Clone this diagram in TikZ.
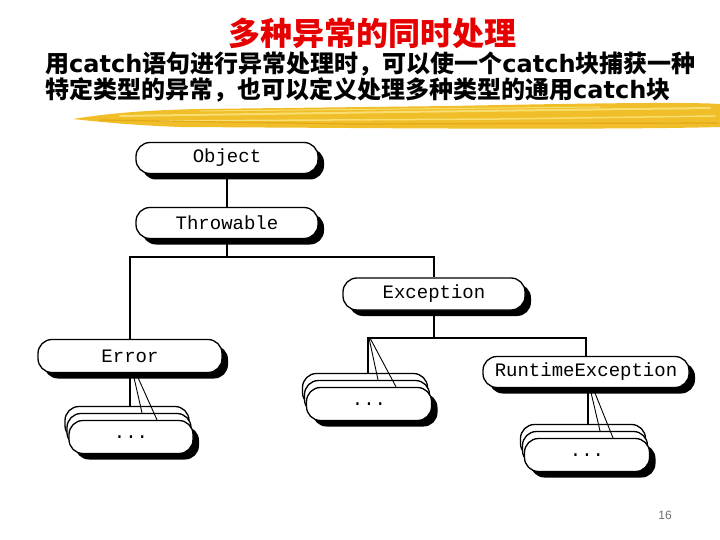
\documentclass[tikz,border=0pt]{standalone}
\usepackage{fontspec}
\setmainfont{Liberation Sans}
\newfontfamily\cjkfont{Noto Sans CJK SC}
\newfontfamily\dvfont{DejaVu Sans}
\newfontfamily\lmonofont{Liberation Mono}
\usetikzlibrary{shadows}
\definecolor{titlered}{RGB}{230,0,0}
\definecolor{brushA}{RGB}{240,190,40}
\definecolor{brushB}{RGB}{248,222,110}
\definecolor{brushC}{RGB}{228,168,24}
\definecolor{pagegray}{RGB}{110,110,110}
\newcommand\catchword{{\dvfont\bfseries catch}}
\begin{document}
\begin{tikzpicture}[x=1pt,y=-1pt,
  pill/.style={draw=black, line width=1.3pt, fill=white, rounded corners=14pt,
    minimum height=31pt, inner sep=0pt, font=\lmonofont\fontsize{19}{19}\selectfont},
  shad/.style={drop shadow={shadow xshift=6pt, shadow yshift=-6pt, opacity=1, fill=black}},
  conn/.style={draw=black, line width=1.5pt},
  thinconn/.style={draw=black, line width=0.9pt},
  bodytext/.style={anchor=base west, inner sep=0pt, font=\cjkfont\bfseries\fontsize{24}{24}\selectfont}
]
\useasboundingbox (0,0) rectangle (720,540);
\fill[white] (0,0) rectangle (720,540);

% title and text
\node[font=\cjkfont\bfseries\fontsize{32}{32}\selectfont, text=titlered, inner sep=0pt] (title) at (372,33) {多种异常的同时处理};
\node[bodytext] (line1) at (45,73) {用\catchword 语句进行异常处理时，可以使一个\catchword 块捕获一种};
\node[bodytext] (line2) at (45,99) {特定类型的异常，也可以定义处理多种类型的通用\catchword 块};

% brush stroke
\fill[brushA] (73,119) .. controls (110,113) and (150,110) .. (200,109) -- (450,106)
  .. controls (600,103) and (690,102) .. (720,104) -- (720,127)
  .. controls (650,129) and (500,129) .. (350,128) -- (180,127)
  .. controls (130,125) and (100,122) .. (73,119) -- cycle;
\draw[brushB, line width=2pt, line cap=round] (120,116) -- (400,112) -- (710,108);
\draw[brushB, line width=1.5pt, line cap=round] (160,121) -- (500,119) -- (715,116);
\draw[brushC, line width=1.2pt, line cap=round] (100,120) -- (350,124) -- (718,123);
\draw[brushB, line width=1pt, line cap=round] (200,111) -- (600,107);

% nodes
\node[pill,shad,minimum width=182pt] (obj) at (227,158) {Object};
\node[pill,shad,minimum width=182pt] (thr) at (227,223) {Throwable};
\node[pill,shad,minimum width=182pt,minimum height=32pt] (exc) at (434,294) {Exception};
\node[pill,shad,minimum width=184pt,minimum height=33pt] (err) at (130,356) {Error};
\node[pill,shad,minimum width=206pt] (rte) at (586,372) {RuntimeException};

% Error stack
\node[pill,minimum width=124pt,minimum height=33pt] (es3) at (127,423) {};
\node[pill,minimum width=124pt,minimum height=33pt] (es2) at (129,430) {};
\node[pill,shad,minimum width=124pt,minimum height=33pt] (es1) at (131,437) {...};
% middle stack
\node[pill,minimum width=125pt,minimum height=33pt] (ms3) at (365,390) {};
\node[pill,minimum width=125pt,minimum height=33pt] (ms2) at (367,397) {};
\node[pill,shad,minimum width=125pt,minimum height=33pt] (ms1) at (369,404) {...};
% RuntimeException stack
\node[pill,minimum width=125pt,minimum height=33pt] (rs3) at (583,441) {};
\node[pill,minimum width=125pt,minimum height=33pt] (rs2) at (585,448) {};
\node[pill,shad,minimum width=125pt,minimum height=33pt] (rs1) at (587,455) {...};

% connectors
\draw[conn] (obj.south) -- (thr.north);
\coordinate (hj) at (434,257);
\draw[conn] (thr.south) -- (thr.south |- hj);
\draw[conn] (err.north) |- (hj) -- (exc.north);

\coordinate (hm) at (368,338);
\draw[conn] (exc.south) -- (exc.south |- hm);
\draw[conn] ([xshift=3pt]ms3.north) -- (hm) -- (hm -| rte.north) -- (rte.north);
\draw[thinconn] ([xshift=1pt]hm) -- ([xshift=11pt]ms2.north);
\draw[thinconn] ([xshift=2pt]hm) -- ([xshift=27pt]ms1.north);

\draw[conn] (err.south) -- ([xshift=3pt]es3.north);
\draw[thinconn] ([xshift=3pt]err.south) -- ([xshift=13pt]es2.north);
\draw[thinconn] ([xshift=6pt]err.south) -- ([xshift=26pt]es1.north);

\draw[conn] ([xshift=2pt]rte.south) -- ([xshift=5pt]rs3.north);
\draw[thinconn] ([xshift=4pt]rte.south) -- ([xshift=15pt]rs2.north);
\draw[thinconn] ([xshift=7pt]rte.south) -- ([xshift=26pt]rs1.north);

% page number
\node[font=\fontsize{12}{12}\selectfont, text=pagegray, inner sep=0pt] (pnum) at (665,515) {16};
\end{tikzpicture}
\end{document}
